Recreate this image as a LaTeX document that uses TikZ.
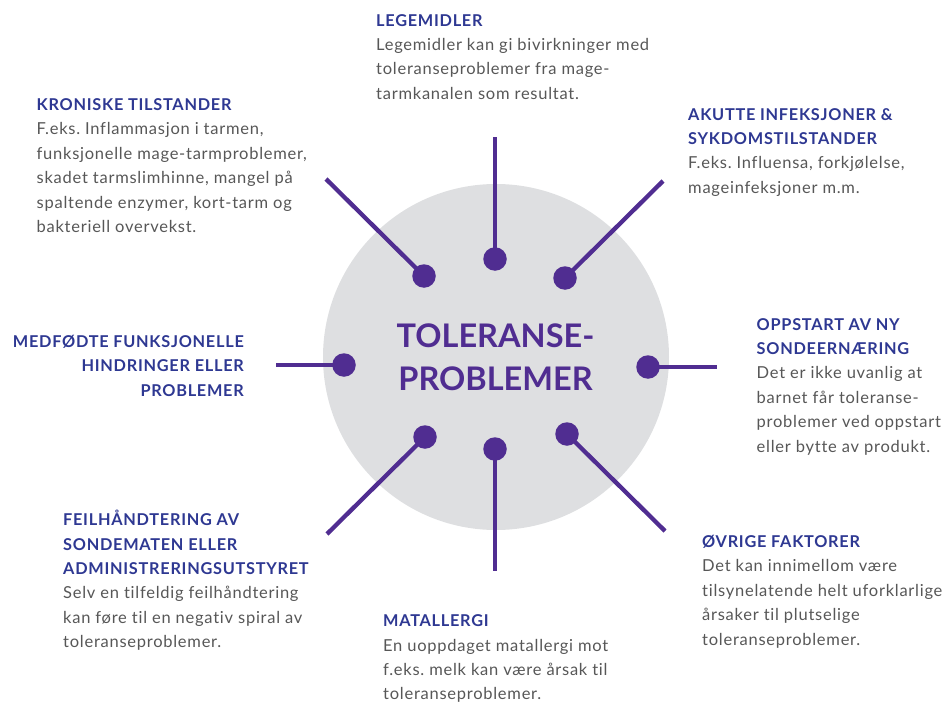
\documentclass[tikz,border=0pt]{standalone}
\usepackage{fontspec}
\setmainfont{Lato}[Ligatures=NoCommon, LetterSpace=4.5]
\newfontfamily\titlefont{Lato}[Ligatures=NoCommon]
\definecolor{hubviolet}{HTML}{502D91}
\definecolor{headblue}{HTML}{2E3892}
\definecolor{bodygray}{HTML}{575757}
\definecolor{discgray}{HTML}{DEDFE1}
\newcommand\hd[1]{{\fontsize{16.3}{24.4}\selectfont\bfseries\color{headblue}#1}}
\frenchspacing
\begin{document}
% Multi-line nodes sit on the baseline of their last line.
\begin{tikzpicture}[x=1pt,y=-1pt,
  disc/.style={circle, fill=discgray, inner sep=0, minimum size=346pt},
  hub/.style={circle, fill=hubviolet, inner sep=0, minimum size=23.5pt},
  spoke/.style={draw=hubviolet, line width=4.3pt},
  blurb/.style={inner sep=0, align=left, anchor=base west, text=bodygray,
    font=\fontsize{16.5}{24.4}\selectfont},
  blurbr/.style={blurb, align=right, anchor=base east},
  title/.style={inner sep=0, align=center, anchor=base, text=hubviolet,
    font=\titlefont\fontsize{32.5}{43}\selectfont\bfseries}]
\useasboundingbox (0,0) rectangle (946,704);

% central disc and title
\node[disc] (core) at (496,357) {};
\node[title] (ttl) at (495.5,390) {TOLERANSE-\\PROBLEMER};

% hubs around the disc
\node[hub] (dN)  at (495,259) {};
\node[hub] (dNW) at (424,276) {};
\node[hub] (dNE) at (565,278) {};
\node[hub] (dW)  at (344,365) {};
\node[hub] (dE)  at (648,367) {};
\node[hub] (dSW) at (425,437) {};
\node[hub] (dS)  at (495,449) {};
\node[hub] (dSE) at (567,434) {};

% free ends of the spokes
\coordinate (eN)  at (495,137);
\coordinate (eNW) at (326,179);
\coordinate (eNE) at (663,181);
\coordinate (eW)  at (276,365);
\coordinate (eE)  at (717,367);
\coordinate (eSW) at (327,534);
\coordinate (eS)  at (495,571);
\coordinate (eSE) at (665,531);

\foreach \k in {N,NW,NE,W,E,SW,S,SE}
  \draw[spoke] (d\k.center) -- (e\k);

% text blocks
\node[blurb] (tN) at (376,99.2)
  {\hd{LEGEMIDLER}\\
   Legemidler kan gi bivirkninger med\\
   toleranseproblemer fra mage-\\
   tarmkanalen som resultat.};
\node[blurb] (tNW) at (36.5,232.5)
  {\hd{KRONISKE TILSTANDER}\\
   F.eks. Inflammasjon i tarmen,\\
   funksjonelle mage-tarmproblemer,\\
   skadet tarmslimhinne, mangel på\\
   spaltende enzymer, kort-tarm og\\
   bakteriell overvekst.};
\node[blurb] (tNE) at (688,193.2)
  {\hd{AKUTTE INFEKSJONER \&}\\
   \hd{SYKDOMSTILSTANDER}\\
   F.eks. Influensa, forkjølelse,\\
   mageinfeksjoner m.m.};
\node[blurb] (tE) at (756.5,452)
  {\hd{OPPSTART AV NY}\\
   \hd{SONDEERNÆRING}\\
   Det er ikke uvanlig at\\
   barnet får toleranse-\\
   problemer ved oppstart\\
   eller bytte av produkt.};
\node[blurbr] (tW) at (244,396.3)
  {\hd{MEDFØDTE FUNKSJONELLE}\\
   \hd{HINDRINGER ELLER}\\
   \hd{PROBLEMER}};
\node[blurb] (tSW) at (63,647.7)
  {\hd{FEILHÅNDTERING AV}\\
   \hd{SONDEMATEN ELLER}\\
   \hd{ADMINISTRERINGSUTSTYRET}\\
   Selv en tilfeldig feilhåndtering\\
   kan føre til en negativ spiral av\\
   toleranseproblemer.};
\node[blurb] (tS) at (383,699.9)
  {\hd{MATALLERGI}\\
   En uoppdaget matallergi mot\\
   f.eks. melk kan være årsak til\\
   toleranseproblemer.};
\node[blurb] (tSE) at (702,645)
  {\hd{ØVRIGE FAKTORER}\\
   Det kan innimellom være\\
   tilsynelatende helt uforklarlige\\
   årsaker til plutselige\\
   toleranseproblemer.};
\end{tikzpicture}
\end{document}
